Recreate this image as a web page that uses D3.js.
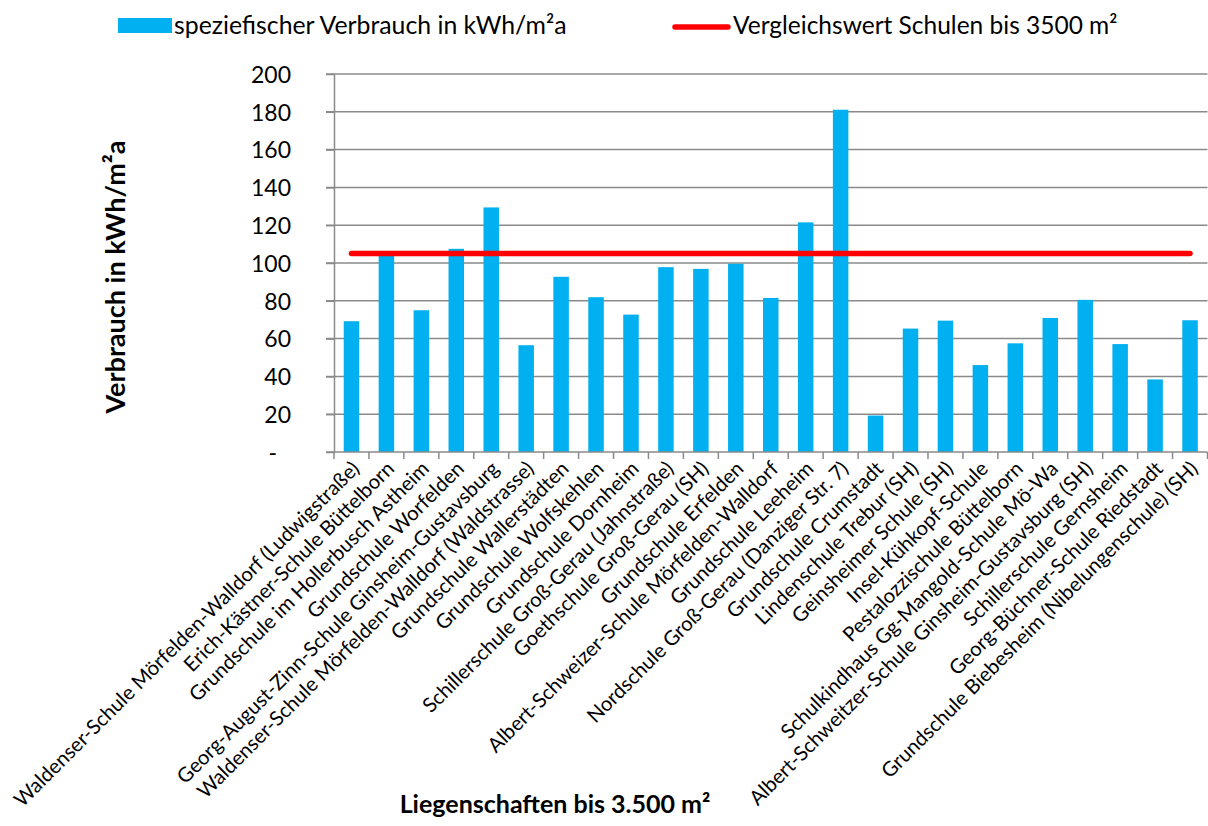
<!DOCTYPE html>
<html>
<head>
<meta charset="utf-8">
<script src="https://cdn.jsdelivr.net/npm/d3@7"></script>
<style>
  html, body { margin: 0; padding: 0; background: #fff; }
  svg { font-family: Lato, "Open Sans", sans-serif; }
  .grid line { stroke: #8a8a8a; stroke-width: 1.5; }
  .axis path, .axis line { stroke: #8a8a8a; stroke-width: 1.5; }
</style>
</head>
<body>
<div id="app"></div>
<script>
const categories = [
  "Waldenser-Schule Mörfelden-Walldorf (Ludwigstraße)",
  "Erich-Kästner-Schule Büttelborn",
  "Grundschule im Hollerbusch Astheim",
  "Grundschule Worfelden",
  "Georg-August-Zinn-Schule Ginsheim-Gustavsburg",
  "Waldenser-Schule Mörfelden-Walldorf (Waldstrasse)",
  "Grundschule Wallerstädten",
  "Grundschule Wolfskehlen",
  "Grundschule Dornheim",
  "Schillerschule Groß-Gerau (Jahnstraße)",
  "Goethschule Groß-Gerau (SH)",
  "Grundschule Erfelden",
  "Albert-Schweizer-Schule Mörfelden-Walldorf",
  "Grundschule Leeheim",
  "Nordschule Groß-Gerau (Danziger Str. 7)",
  "Grundschule Crumstadt",
  "Lindenschule Trebur (SH)",
  "Geinsheimer Schule (SH)",
  "Insel-Kühkopf-Schule",
  "Pestalozzischule Büttelborn",
  "Schulkindhaus Gg-Mangold-Schule Mö-Wa",
  "Albert-Schweitzer-Schule Ginsheim-Gustavsburg (SH)",
  "Schillerschule Gernsheim",
  "Georg-Büchner-Schule Riedstadt",
  "Grundschule Biebesheim (Nibelungenschule) (SH)"
];

// speziefischer Verbrauch in kWh/m²a
const verbrauch = [
  69.2, 104, 75, 107.5, 129.4, 56.5, 92.7, 81.9, 72.7, 97.8,
  96.9, 99.6, 81.5, 121.5, 181.1, 19.3, 65.3, 69.5, 46, 57.5,
  70.9, 80.5, 57.1, 38.4, 69.7
];

// Vergleichswert Schulen bis 3500 m²
const vergleichswert = 105;

const yTicks = [0, 20, 40, 60, 80, 100, 120, 140, 160, 180, 200];

const W = 1208, H = 826;
const plot = { left: 334, right: 1207.5, top: 74, bottom: 452 };

const svg = d3.select("#app")
.append("svg")
  .attr("width", W)
  .attr("height", H);

const x = d3.scaleBand()
  .domain(categories)
  .range([plot.left, plot.right]);

const y = d3.scaleLinear()
  .domain([0, 200])
  .range([plot.bottom, plot.top]);

const barW = 15.5;

/* Gitterlinien */
svg.append("g")
  .attr("class", "grid")
  .selectAll("line")
  .data(yTicks.filter(d => d > 0))
.enter().append("line")
  .attr("x1", plot.left - 8)
  .attr("x2", plot.right)
  .attr("y1", d => y(d))
  .attr("y2", d => y(d));

/* Balken */
svg.append("g")
  .selectAll("rect")
  .data(verbrauch)
.enter().append("rect")
  .attr("x", (d, i) => x(categories[i]) + x.bandwidth() / 2 - barW / 2)
  .attr("width", barW)
  .attr("y", d => y(d))
  .attr("height", d => y(0) - y(d))
  .attr("fill", "#00b0f0");

/* Y-Achse */
const yAxis = svg.append("g")
  .attr("class", "axis")
  .attr("transform", `translate(${plot.left},0)`)
  .call(d3.axisLeft(y).tickValues(yTicks).tickSize(8).tickSizeOuter(0)
    .tickFormat(d => d === 0 ? "-" : d));
yAxis.selectAll("text")
  .attr("x", -43)
  .attr("dy", "0.36em")
  .attr("fill", "#000")
  .style("font-size", "23px")
  .style("font-family", "Lato, sans-serif");
yAxis.selectAll(".tick").filter(d => d === 0).select("text").attr("x", -57);

/* X-Achse */
const xAxis = svg.append("g")
  .attr("class", "axis")
  .attr("transform", `translate(0,${plot.bottom})`);
xAxis.append("line")
  .attr("x1", plot.left - 8)
  .attr("x2", plot.right);
xAxis.selectAll(".xt")
  .data(categories)
.enter().append("line")
  .attr("class", "xt")
  .attr("x1", d => x(d))
  .attr("x2", d => x(d))
  .attr("y1", 0)
  .attr("y2", 7);
xAxis.append("line")
  .attr("x1", plot.right)
  .attr("x2", plot.right)
  .attr("y1", 0)
  .attr("y2", 7);

xAxis.selectAll(".xl")
  .data(categories)
.enter().append("text")
  .attr("class", "xl")
  .attr("transform", d => `translate(${x(d) + x.bandwidth() / 2 + 9},18) rotate(-45)`)
  .attr("text-anchor", "end")
  .style("font-size", "20.3px")
  .attr("fill", "#000")
  .text(d => d);

/* Vergleichslinie */
svg.append("line")
  .attr("x1", x(categories[0]) + x.bandwidth() / 2)
  .attr("x2", x(categories[categories.length - 1]) + x.bandwidth() / 2)
  .attr("y1", y(vergleichswert))
  .attr("y2", y(vergleichswert))
  .attr("stroke", "#ff0000")
  .attr("stroke-width", 5.5)
  .attr("stroke-linecap", "round");

/* Achsentitel */
svg.append("text")
  .attr("transform", "translate(125,277) rotate(-90)")
  .attr("text-anchor", "middle")
  .style("font-size", "27px")
  .style("font-weight", "bold")
  .text("Verbrauch in kWh/m²a");

svg.append("text")
  .attr("x", 555)
  .attr("y", 813)
  .attr("text-anchor", "middle")
  .style("font-size", "25px")
  .style("font-weight", "bold")
  .text("Liegenschaften bis 3.500 m²");

/* Legende */
const legend = svg.append("g");
legend.append("rect")
  .attr("x", 118).attr("y", 18)
  .attr("width", 54).attr("height", 15)
  .attr("fill", "#00b0f0");
legend.append("text")
  .attr("x", 174).attr("y", 34)
  .style("font-size", "24.8px")
  .text("speziefischer Verbrauch in kWh/m²a");
legend.append("line")
  .attr("x1", 675).attr("x2", 728)
  .attr("y1", 27).attr("y2", 27)
  .attr("stroke", "#ff0000")
  .attr("stroke-width", 5.5)
  .attr("stroke-linecap", "round");
legend.append("text")
  .attr("x", 733).attr("y", 34)
  .style("font-size", "24.5px")
  .text("Vergleichswert Schulen bis 3500 m²");
</script>
</body>
</html>
